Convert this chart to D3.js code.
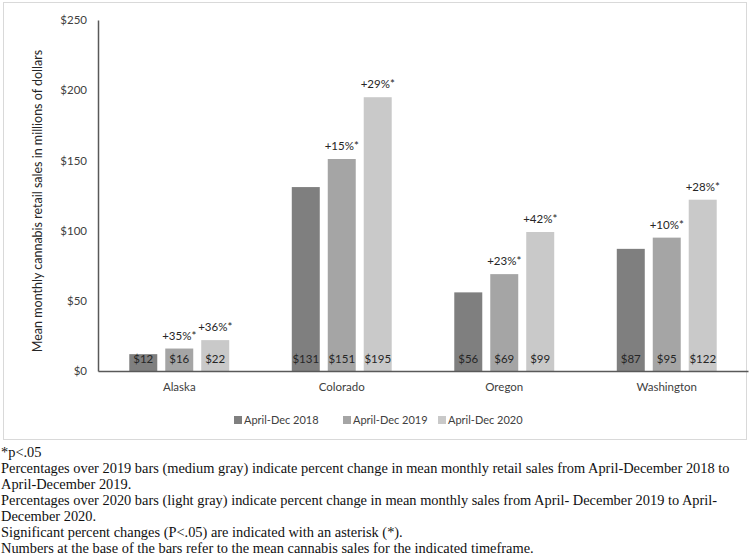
<!DOCTYPE html>
<html>
<head>
<meta charset="utf-8">
<script src="https://cdn.jsdelivr.net/npm/d3@7"></script>
<style>
  body { margin: 0; background: #fff; }
  svg { display: block; }
</style>
</head>
<body>
<div id="chart"></div>
<script>
const states = ["Alaska", "Colorado", "Oregon", "Washington"];
const periods = ["April-Dec 2018", "April-Dec 2019", "April-Dec 2020"];
const sales2018 = [12, 131, 56, 87];
const sales2019 = [16, 151, 69, 95];
const sales2020 = [22, 195, 99, 122];
const change2019 = ["+35%*", "+15%*", "+23%*", "+10%*"];
const change2020 = ["+36%*", "+29%*", "+42%*", "+28%*"];
const yTicks = [0, 50, 100, 150, 200, 250];
const notes = [
  "*p<.05",
  "Percentages over 2019 bars (medium gray) indicate percent change in mean monthly retail sales from April-December 2018 to",
  "April-December 2019.",
  "Percentages over 2020 bars (light gray) indicate percent change in mean monthly sales from April- December 2019 to April-",
  "December 2020.",
  "Significant percent changes (P<.05) are indicated with an asterisk (*).",
  "Numbers at the base of the bars refer to the mean cannabis sales for the indicated timeframe."
];

const width = 750, height = 556;
const colors = d3.scaleOrdinal().domain(periods).range(["#7f7f7f", "#a5a5a5", "#c9c9c9"]);
const sansFont = "Lato, 'Open Sans', sans-serif";

const svg = d3.select("#chart").append("svg")
  .attr("width", width)
  .attr("height", height);

// light frame around the chart area
svg.append("rect")
  .attr("x", 3.5).attr("y", 2.5)
  .attr("width", 743).attr("height", 437)
  .attr("fill", "none")
  .attr("stroke", "#d9d9d9");

const x0 = d3.scaleBand().domain(states).range([98, 748]).paddingInner(0.385).paddingOuter(0.1925);
const x1 = d3.scaleBand().domain(periods).range([0, x0.bandwidth()]).paddingInner(0.222);
const y = d3.scaleLinear().domain([0, 250]).range([371, 20]);

const rows = states.map((s, i) => ({
  state: s,
  values: [
    { period: periods[0], value: sales2018[i], change: null },
    { period: periods[1], value: sales2019[i], change: change2019[i] },
    { period: periods[2], value: sales2020[i], change: change2020[i] }
  ]
}));

// y axis
const yAxis = svg.append("g")
  .attr("transform", "translate(98,0)")
  .call(d3.axisLeft(y).tickValues(yTicks).tickSize(0).tickPadding(11).tickFormat(d => "$" + d));
yAxis.select(".domain").attr("stroke", "#595959").attr("stroke-width", 1.5);
yAxis.selectAll("text")
  .attr("font-family", sansFont)
  .attr("font-size", 11.5)
  .attr("fill", "#404040");

svg.append("text")
  .attr("transform", "translate(42,201) rotate(-90)")
  .attr("text-anchor", "middle")
  .attr("font-family", sansFont)
  .attr("font-size", 12.5)
  .attr("fill", "#262626")
  .text("Mean monthly cannabis retail sales in millions of dollars");

const groups = svg.append("g").selectAll("g")
  .data(rows)
  .join("g")
  .attr("transform", d => `translate(${x0(d.state)},0)`);

groups.selectAll("rect")
  .data(d => d.values)
  .join("rect")
  .attr("x", d => x1(d.period))
  .attr("y", d => y(d.value))
  .attr("width", x1.bandwidth())
  .attr("height", d => y(0) - y(d.value))
  .attr("fill", d => colors(d.period));

groups.selectAll("text.val")
  .data(d => d.values)
  .join("text")
  .attr("class", "val")
  .attr("x", d => x1(d.period) + x1.bandwidth() / 2)
  .attr("y", y(0) - 8)
  .attr("text-anchor", "middle")
  .attr("font-family", sansFont)
  .attr("font-size", 11.5)
  .attr("fill", "#262626")
  .text(d => "$" + d.value);

groups.selectAll("text.chg")
  .data(d => d.values.filter(v => v.change))
  .join("text")
  .attr("class", "chg")
  .attr("x", d => x1(d.period) + x1.bandwidth() / 2)
  .attr("y", d => y(d.value) - 9)
  .attr("text-anchor", "middle")
  .attr("font-family", sansFont)
  .attr("font-size", 11.5)
  .attr("fill", "#262626")
  .text(d => d.change);

// x axis
const xAxis = svg.append("g")
  .attr("transform", `translate(0,${y(0)})`)
  .call(d3.axisBottom(x0).tickSize(0).tickPadding(12).tickSizeOuter(0));
xAxis.select(".domain").attr("stroke", "#595959").attr("stroke-width", 1.5);
xAxis.selectAll("text")
  .attr("font-family", sansFont)
  .attr("font-size", 11.5)
  .attr("fill", "#404040");

// legend
const legendX = [234, 343, 438];
const legend = svg.append("g").selectAll("g")
  .data(periods)
  .join("g")
  .attr("transform", (d, i) => `translate(${legendX[i]},420)`);
legend.append("rect")
  .attr("x", 0).attr("y", -4)
  .attr("width", 8).attr("height", 8)
  .attr("fill", d => colors(d));
legend.append("text")
  .attr("x", 10).attr("y", 4)
  .attr("font-family", sansFont)
  .attr("font-size", 11)
  .attr("fill", "#404040")
  .text(d => d);

// footnotes
svg.append("g").selectAll("text")
  .data(notes)
  .join("text")
  .attr("x", 1)
  .attr("y", (d, i) => 457 + i * 16)
  .attr("font-family", "'Liberation Serif', 'Times New Roman', serif")
  .attr("font-size", 14.4)
  .attr("fill", "#111")
  .text(d => d);
</script>
</body>
</html>
